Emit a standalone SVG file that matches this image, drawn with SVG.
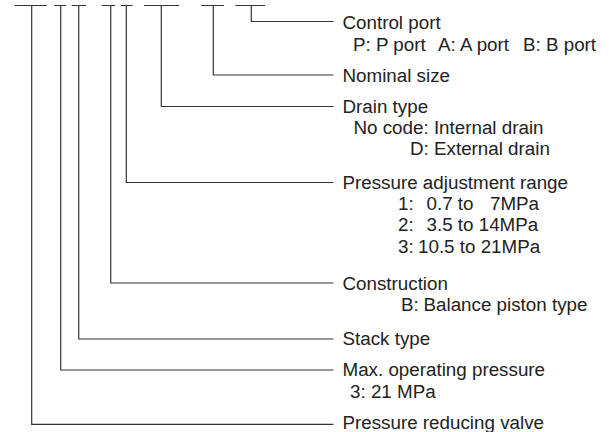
<svg xmlns="http://www.w3.org/2000/svg" width="609" height="432" viewBox="0 0 609 432">
<style>
.ln{fill:none;stroke:#333;stroke-width:1.2}
.t{font-family:"Liberation Sans",Arial,"Noto Sans",sans-serif;font-size:18.8px;fill:#222}
</style>
<rect width="609" height="432" fill="#fff"/>
<g id="connectors" class="ln">
<path d="M14.7 5.5H46.7M54.3 5.5H66M71.7 5.5H86M101.7 5.5H115M120.7 5.5H132.7M144 5.5H179M201.3 5.5H224M235.3 5.5H265"/>
<path d="M251.3 5.5V21.5H333.5"/>
<path d="M213.3 5.5V75H333.5"/>
<path d="M161.3 5.5V106.5H333.5"/>
<path d="M126.3 5.5V182.5H333.5"/>
<path d="M110.7 5.5V283H333.5"/>
<path d="M78.7 5.5V339H333.5"/>
<path d="M60.7 5.5V370H333.5"/>
<path d="M31.7 5.5V424.3H333.5"/>
</g>
<g id="control-port" class="t">
<text x="342.5" y="28.5">Control port</text>
<text y="50.5"><tspan x="353">P: P port</tspan><tspan x="438">A: A port</tspan><tspan x="523">B: B port</tspan></text>
</g>
<g id="nominal-size" class="t">
<text x="342.5" y="81.6">Nominal size</text>
</g>
<g id="drain-type" class="t">
<text x="342.5" y="113">Drain type</text>
<text x="353.5" y="133.5">No code: Internal drain</text>
<text x="410" y="155">D: External drain</text>
</g>
<g id="pressure-range" class="t">
<text x="342.5" y="189">Pressure adjustment range</text>
<text y="209.5"><tspan x="398">1:</tspan><tspan x="426.5">0.7 to</tspan><tspan x="490">7MPa</tspan></text>
<text y="231"><tspan x="398">2:</tspan><tspan x="426.5">3.5 to 14MPa</tspan></text>
<text y="252.5"><tspan x="398">3:</tspan><tspan x="418">10.5 to 21MPa</tspan></text>
</g>
<g id="construction" class="t">
<text x="342.5" y="289.6">Construction</text>
<text y="311"><tspan x="401">B:</tspan><tspan x="423.5">Balance piston type</tspan></text>
</g>
<g id="stack-type" class="t">
<text x="342.5" y="345.2">Stack type</text>
</g>
<g id="max-pressure" class="t">
<text x="342.5" y="375.5">Max. operating pressure</text>
<text x="350" y="397.5">3: 21 MPa</text>
</g>
<g id="pressure-reducing-valve" class="t">
<text x="342.5" y="428.5">Pressure reducing valve</text>
</g>
</svg>
